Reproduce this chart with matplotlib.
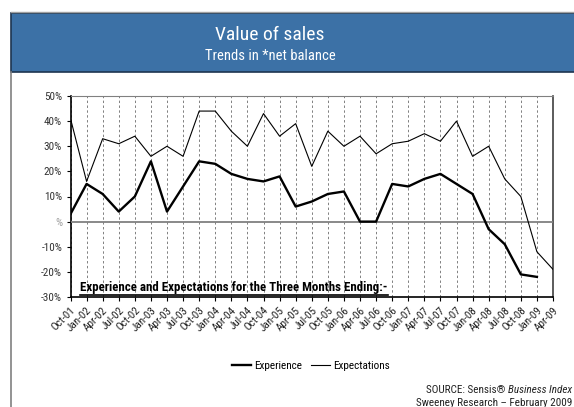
import os
import matplotlib
matplotlib.use("Agg")
import matplotlib.pyplot as plt
import matplotlib.font_manager as fm
from matplotlib.patches import Rectangle
from matplotlib.lines import Line2D

quarters = ["Oct-01", "Jan-02", "Apr-02", "Jul-02", "Oct-02", "Jan-03", "Apr-03", "Jul-03",
            "Oct-03", "Jan-04", "Apr-04", "Jul-04", "Oct-04", "Jan-05", "Apr-05", "Jul-05",
            "Oct-05", "Jan-06", "Apr-06", "Jul-06", "Oct-06", "Jan-07", "Apr-07", "Jul-07",
            "Oct-07", "Jan-08", "Apr-08", "Jul-08", "Oct-08", "Jan-09", "Apr-09"]
experience = [3, 15, 11, 4, 10, 24, 4, 14, 24, 23, 19, 17, 16, 18, 6, 8,
              11, 12, 0, 0, 15, 14, 17, 19, 15, 11, -3, -9, -21, -22, None]
expectations = [41, 16, 33, 31, 34, 26, 30, 26, 44, 44, 36, 30, 43, 34, 39, 22,
                36, 30, 34, 27, 31, 32, 35, 32, 40, 26, 30, 17, 10, -12, -19]
y_ticks = [50, 40, 30, 20, 10, 0, -10, -20, -30]
y_labels = ["50%", "40%", "30%", "20%", "10%", "%", "-10%", "-20%", "-30%"]


# ---- pick a narrow / condensed font if one exists ----
def find_font(bold=False, italic=False):
    cands = []
    for f in fm.fontManager.ttflist:
        key = (f.name + " " + os.path.basename(f.fname)).lower()
        narrow = ("narrow" in key or "condensed" in key or "cond" in key
                  or str(f.stretch).lower() in ("condensed", "semi-condensed", "extra-condensed"))
        if not narrow:
            continue
        w = f.weight if isinstance(f.weight, int) else (700 if "bold" in str(f.weight) else 400)
        is_bold = w >= 600 or "bold" in key
        is_it = f.style in ("italic", "oblique") or "italic" in key or "oblique" in key
        if is_bold != bold or is_it != italic:
            continue
        if any(k in key for k in ("light", "thin", "black", "medium", "extra", "semi")):
            continue
        pref = 9
        for i, p in enumerate(["liberation sans narrow", "liberationsansnarrow", "roboto condensed",
                               "robotocondensed", "open sans condensed", "dejavu sans condensed",
                               "dejavusanscondensed", "noto sans condensed"]):
            if p in key:
                pref = i
                break
        cands.append((pref, f.fname))
    cands.sort()
    return cands[0][1] if cands else None


reg = find_font()
bld = find_font(bold=True)
ita = find_font(italic=True)
NARROW = reg is not None
s = 1.0 if NARROW else 0.82


def fp(size, bold=False, italic=False):
    path = bld if bold else (ita if italic else reg)
    if path:
        return fm.FontProperties(fname=path, size=size)
    return fm.FontProperties(family="DejaVu Sans", size=size * s,
                             weight="bold" if bold else "normal",
                             style="italic" if italic else "normal")


W, H = 574, 407
fig = plt.figure(figsize=(W / 100, H / 100), dpi=100)
fig.patch.set_facecolor("white")

# Header band
hdr = fig.add_axes([0, 0, 1, 1], zorder=0)
hdr.set_xlim(0, W)
hdr.set_ylim(H, 0)
hdr.axis("off")
hdr.add_patch(Rectangle((11, 13), 600, 59, facecolor="#3C71A6", edgecolor="#1E3550", lw=1.2))
hdr.plot([11, 600], [12, 12], color="#A0A0A0", lw=1)
hdr.plot([11, 11], [72, H], color="#808080", lw=1.2)
hdr.text(270, 35, "Value of sales", color="white", fontproperties=fp(14), ha="center", va="center")
hdr.text(270, 56, "Trends in *net balance", color="white", fontproperties=fp(10.5), ha="center", va="center")

# Plot area
ax = fig.add_axes([70.5 / W, (H - 297) / H, (553 - 70.5) / W, (297 - 96) / H], zorder=1)
ax.set_facecolor("none")
x = list(range(len(quarters)))
exp_x = [i for i, v in zip(x, experience) if v is not None]
exp_y = [v for v in experience if v is not None]
ax.plot(exp_x, exp_y, color="black", lw=1.7, label="Experience", zorder=4)
ax.plot(x, expectations, color="black", lw=0.8, label="Expectations", zorder=4)
ax.axhline(0, color="#808080", lw=1.3, zorder=3)

ax.set_xlim(0, len(quarters) - 1)
ax.set_ylim(-30, 50)
ax.set_yticks(y_ticks)
ax.set_yticklabels(y_labels, fontproperties=fp(8))
for t, lab in zip(ax.get_yticklabels(), y_labels):
    t.set_color("#A0A0A0" if lab == "%" else "#333333")
ax.set_xticks(x)
ax.set_xticklabels(quarters, rotation=45, ha="right", rotation_mode="anchor", fontproperties=fp(8))
ax.tick_params(axis="x", direction="out", length=3, pad=3, color="black", labelcolor="#222222")
ax.tick_params(axis="y", direction="out", length=3, pad=3, color="black")
ax.grid(axis="x", color="#808080", linestyle=(0, (2.5, 2.5)), lw=0.7)
ax.set_axisbelow(True)
ax.spines["left"].set_color("black")
ax.spines["left"].set_linewidth(1.2)
ax.spines["bottom"].set_color("black")
ax.spines["bottom"].set_linewidth(1.2)
ax.spines["top"].set_color("#808080")
ax.spines["right"].set_color("#404040")
ax.spines["right"].set_linewidth(1.2)

note = ax.text(0.6, -29.0, "Experience and Expectations for the Three Months Ending:-",
               fontproperties=fp(9.3, bold=True), ha="left", va="bottom", zorder=5)
fig.canvas.draw()
bb = note.get_window_extent().transformed(ax.transData.inverted())
ax.plot([bb.x0, bb.x1], [-29.4, -29.4], color="black", lw=1.2, zorder=5)

fig.legend(handles=[Line2D([], [], color="black", lw=1.7),
                    Line2D([], [], color="black", lw=0.8)],
           labels=["Experience", "Expectations"], loc="center",
           bbox_to_anchor=(311 / W, 1 - 366 / H), ncol=2, frameon=False,
           prop=fp(8), handlelength=1.7, handletextpad=0.3, columnspacing=0.8)

t1 = fig.text(572 / W, 1 - 390 / H, "SOURCE: Sensis\u00ae ", fontproperties=fp(8),
              ha="right", va="center", color="#222222")
it = fig.text(0, 1 - 390 / H, "Business Index", fontproperties=fp(8, italic=True),
              ha="left", va="center", color="#222222")
fig.canvas.draw()
w_it = it.get_window_extent().width
right = 572
t1.set_position(((right - w_it) / W, 1 - 390 / H))
it.set_position(((right - w_it) / W, 1 - 390 / H))
fig.text(572 / W, 1 - 403 / H, "Sweeney Research \u2013 February 2009", fontproperties=fp(8),
         ha="right", va="center", color="#222222")

fig.savefig("out.png", dpi=100)
